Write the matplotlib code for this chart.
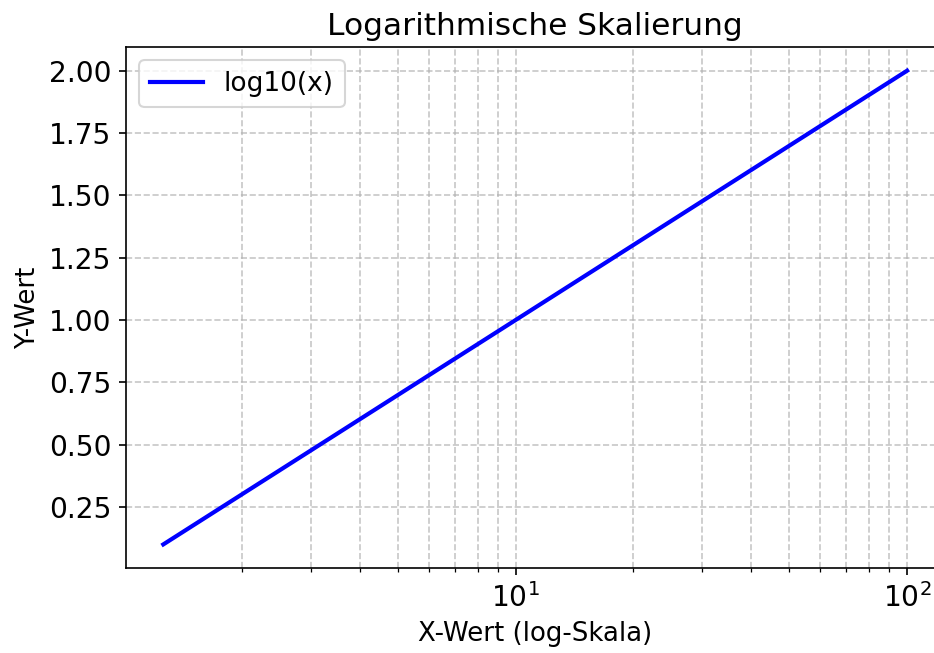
import numpy as np
import matplotlib
matplotlib.use("Agg")
import matplotlib.pyplot as plt
from matplotlib.ticker import MultipleLocator

# Werte der Kurve y = log10(x) (Gerade auf log-Achse)
x_werte = [1.259, 10.0, 100.0]
y_werte = [0.1, 1.0, 2.0]

fig = plt.figure(figsize=(934 / 150, 653 / 150), dpi=150)
# rechter Rand ist im Original abgeschnitten
ax = fig.add_axes([0.135, 0.130, 0.876, 0.798])

ax.plot(x_werte, y_werte, color='blue', linewidth=2, label='log10(x)')
ax.set_xscale('log')
ax.yaxis.set_major_locator(MultipleLocator(0.25))
ax.set_title('Logarithmische Skalierung', fontsize=15)
ax.set_xlabel('X-Wert (log-Skala)', fontsize=12.5)
ax.set_ylabel('Y-Wert', fontsize=12.5)
ax.tick_params(labelsize=13.5)
ax.grid(True, which='both', linestyle='--', alpha=0.7)
ax.legend(loc='upper left', fontsize=12.7)

fig.savefig('out.png', dpi=150)
